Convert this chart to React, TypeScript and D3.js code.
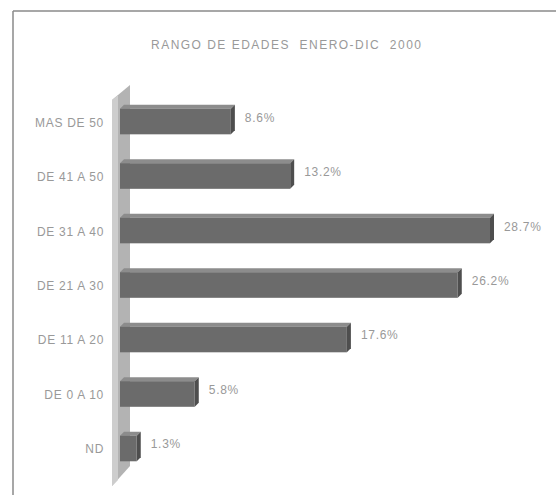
import React from "react";
import * as d3 from "d3";

const categories = ["MAS DE 50", "DE 41 A 50", "DE 31 A 40", "DE 21 A 30", "DE 11 A 20", "DE 0 A 10", "ND"];
const values = [8.6, 13.2, 28.7, 26.2, 17.6, 5.8, 1.3];
const title = "RANGO DE EDADES  ENERO-DIC  2000";

export default function App() {
  const W = 556, H = 495;
  const x0 = 120;
  const x = d3.scaleLinear().domain([0, 28.7]).range([x0, 490]);
  const y = d3.scaleBand().domain(categories).range([94, 476]).paddingInner(0.53).paddingOuter(0.27);
  const d = 4;
  const font = "'Liberation Sans', Arial, sans-serif";
  const tc = "#999999";
  return (
    <svg width={W} height={H} style={{ position: "absolute", left: 0, top: 0, background: "#fff" }}>
      <line x1={13} y1={11} x2={W} y2={11} stroke="#8a8a8a" strokeWidth={1.5} />
      <line x1={13} y1={11} x2={13} y2={H} stroke="#8a8a8a" strokeWidth={1.5} />
      <text x={151} y={49} textLength={270} lengthAdjust="spacing" fontFamily={font} fontSize={12} fill={tc} style={{ whiteSpace: "pre" }}>{title}</text>
      {/* wall */}
      <polygon points="112,100 130,85 130,466 112,486" fill="#b3b3b3" />
      <polygon points="112,100 118,95 118,480 112,486" fill="#cdcdcd" />
      {categories.map((c, i) => {
        const by = y(c)!;
        const bh = y.bandwidth();
        const xe = x(values[i]);
        return (
          <g key={c}>
            <polygon points={`${x0},${by} ${x0 + d},${by - d} ${xe + d},${by - d} ${xe},${by}`} fill="#8c8c8c" />
            <polygon points={`${xe},${by} ${xe + d},${by - d} ${xe + d},${by + bh - d} ${xe},${by + bh}`} fill="#4e4e4e" />
            <rect x={x0} y={by} width={xe - x0} height={bh} fill="#6b6b6b" />
            <text x={104} y={by + bh / 2 + 5} textAnchor="end" fontFamily={font} fontSize={12} letterSpacing={0.7} fill={tc}>{c}</text>
            <text x={xe + d + 10} y={by + bh / 2} textAnchor="start" fontFamily={font} fontSize={12} letterSpacing={0.7} fill={tc}>{`${values[i].toFixed(1)}%`}</text>
          </g>
        );
      })}
    </svg>
  );
}
